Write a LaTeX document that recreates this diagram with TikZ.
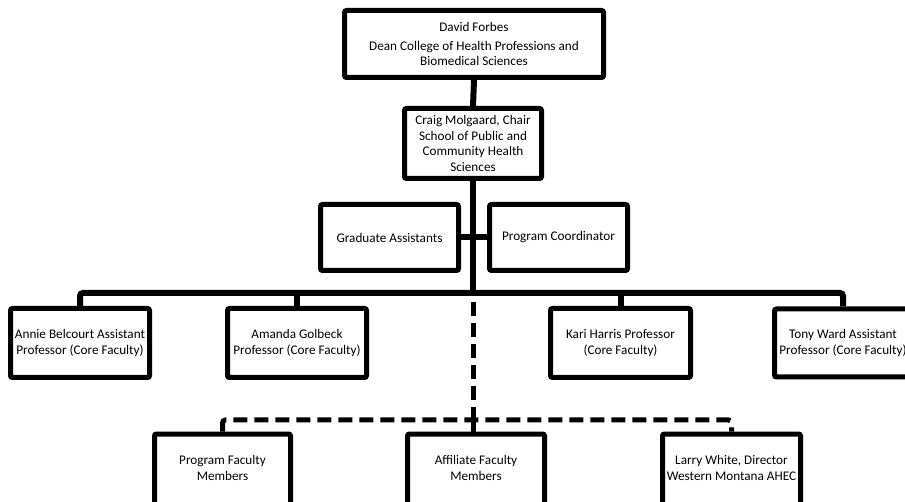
\documentclass[tikz,border=0pt]{standalone}
\usepackage{fontspec}
\setmainfont{Carlito}
\begin{document}
\begin{tikzpicture}[x=1pt,y=-1pt,
  box/.style={draw, line width=5pt, rounded corners=2pt, align=center,
    inner sep=0pt, font=\fontsize{13.2}{15.5}\selectfont},
  link/.style={line width=6pt},
  dashlink/.style={line width=5pt, dash pattern=on 14pt off 7pt},
]
\useasboundingbox (0,0) rectangle (905,502);
\clip (0,0) rectangle (905,502);

% upper management
\node[box, minimum width=259pt, minimum height=67pt] (dean) at (474,44)
  {David Forbes\\[3pt]Dean College of Health Professions and\\Biomedical Sciences};
\node[box, minimum width=137pt, minimum height=70pt] (chair) at (473,143.5)
  {Craig Molgaard, Chair\\School of Public and\\Community Health\\Sciences};

% support staff
\node[box, minimum width=138pt, minimum height=66pt] (grad) at (389.5,237.5)
  {Graduate Assistants};
\node[box, minimum width=138pt, minimum height=66pt] (coord) at (558.5,237.5)
  {Program Coordinator};

% core faculty
\node[box, minimum width=139pt, minimum height=69pt] (annie) at (80,343)
  {Annie Belcourt Assistant\\Professor (Core Faculty)};
\node[box, minimum width=139pt, minimum height=69pt] (amanda) at (297,343)
  {Amanda Golbeck\\Professor (Core Faculty)};
\node[box, minimum width=140pt, minimum height=69pt] (kari) at (620.5,343)
  {Kari Harris Professor\\(Core Faculty)};
\node[box, minimum width=137pt, minimum height=68pt] (tony) at (843,343)
  {Tony Ward Assistant\\Professor (Core Faculty)};

% affiliated members (lower edge runs past the page)
\node[box, minimum width=136pt, minimum height=72pt, text depth=4pt] (prog) at (222.5,470)
  {Program Faculty\\Members};
\node[box, minimum width=137pt, minimum height=72pt, text depth=4pt] (aff) at (476,470)
  {Affiliate Faculty\\Members};
\node[box, minimum width=138pt, minimum height=72pt, text depth=4pt] (larry) at (731.5,470)
  {Larry White, Director\\Western Montana AHEC};

% solid reporting lines
\coordinate (hub) at (473,293);
\draw[link] (dean.south) -- (chair.north);
\draw[link] (chair.south) -- (hub);
\draw[link] (grad.east) -- (coord.west);
\draw[link, rounded corners=3pt] (annie.north) |- (hub) -| (tony.north);
\draw[link] (amanda.north) -- (amanda.north |- hub);
\draw[link] (kari.north) -- (kari.north |- hub);

% dashed links to affiliated members
\coordinate (split) at (473,420);
\draw[dashlink] (hub) ++(0,9) -- (split);
\draw[dashlink, rounded corners=3pt] (prog.north) |- (split) -| (larry.north);
\draw[line width=5pt] (split) -- (split |- aff.north);
\end{tikzpicture}
\end{document}
